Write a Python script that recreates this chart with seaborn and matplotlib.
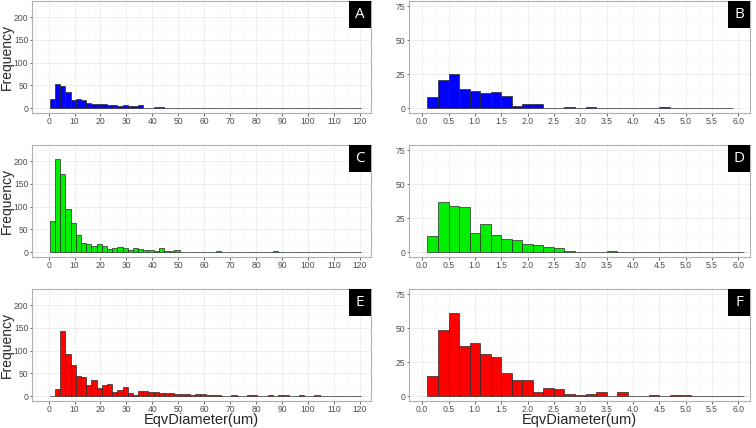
import numpy as np
import pandas as pd
import matplotlib.pyplot as plt
import seaborn as sns
from matplotlib.patches import Rectangle
from matplotlib.ticker import MultipleLocator

# counts per bin
# left column: bins of width 2 um, starting at 0.5
counts_a = [19, 54, 48, 35, 17, 20, 18, 10, 9, 9, 8, 6, 7, 5, 6, 5, 4, 6, 1, 0,
            3, 3, 0, 1, 0, 1, 0, 1, 0, 0, 0, 0, 0, 0, 0, 1, 0, 0, 0, 0,
            0, 0, 0, 0, 0, 0, 0, 0, 0, 0, 0, 0, 0, 0, 0, 0, 0, 0, 0, 0]
counts_c = [68, 206, 171, 94, 65, 37, 19, 17, 14, 17, 14, 6, 8, 10, 9, 4, 9, 6, 4, 4,
            2, 8, 3, 3, 4, 1, 1, 0, 1, 0, 1, 1, 2, 1, 1, 0, 1, 0, 0, 0,
            1, 1, 0, 2, 0, 1, 0, 0, 1, 1, 0, 1, 1, 0, 0, 0, 0, 0, 0, 0]
counts_e = [0, 16, 143, 92, 69, 44, 41, 24, 35, 17, 25, 26, 8, 14, 19, 7, 2, 11, 12, 8,
            8, 7, 7, 6, 4, 4, 4, 2, 5, 5, 2, 3, 3, 1, 1, 2, 1, 1, 3, 3,
            1, 1, 2, 1, 2, 2, 1, 1, 2, 1, 1, 2, 1, 1, 1, 0, 0, 0, 0, 0]
# right column: bins of width 0.2 um, starting at 0.1
counts_b = [8, 21, 25, 14, 13, 11, 12, 9, 2, 3, 3, 0, 0, 1, 0, 1, 0, 0, 0, 0,
            0, 0, 1, 0, 0, 0, 0, 0, 0]
counts_d = [12, 37, 34, 33, 14, 21, 13, 10, 9, 6, 5, 4, 3, 1, 0, 0, 0, 1, 0, 0,
            0, 0, 0, 0, 0, 0, 0, 0, 0, 0]
counts_f = [15, 49, 61, 37, 39, 31, 29, 17, 12, 12, 3, 6, 5, 2, 1, 2, 3, 0, 3, 0,
            0, 1, 0, 1, 1, 0, 0, 0, 0, 0]

panel_labels = ['A', 'B', 'C', 'D', 'E', 'F']
colors = ['#0000FF', '#0000FF', '#00EE00', '#00EE00', '#FF0000', '#FF0000']

sns.set_theme(style='white')
plt.rcParams['font.family'] = ['Liberation Sans', 'DejaVu Sans']

fig = plt.figure(figsize=(7.56, 4.28), dpi=100)

W, H = 756, 428
cols = [(32, 371), (409, 750)]
rows = [(1, 113), (145, 257), (289, 401)]

panels = [
    (counts_a, 2.0, 0.5), (counts_b, 0.2, 0.1),
    (counts_c, 2.0, 0.5), (counts_d, 0.2, 0.1),
    (counts_e, 2.0, 0.5), (counts_f, 0.2, 0.1),
]

for i, (counts, width, start) in enumerate(panels):
    r, c = divmod(i, 2)
    x0, x1 = cols[c]
    y0, y1 = rows[r]
    ax = fig.add_axes([x0 / W, 1 - y1 / H, (x1 - x0) / W, (y1 - y0) / H])

    n = len(counts)
    edges = start + width * np.arange(n + 1)
    df = pd.DataFrame({'d': edges[:-1] + width / 2, 'n': counts})
    sns.histplot(data=df, x='d', weights='n', bins=list(edges), ax=ax,
                 color=colors[i], alpha=1, edgecolor='#2b2b2b', linewidth=0.5)

    if c == 0:
        ax.set_xlim(-6.4, 124.3)
        ax.set_ylim(-11, 236)
        ax.xaxis.set_major_locator(MultipleLocator(10))
        ax.xaxis.set_minor_locator(MultipleLocator(5))
        ax.yaxis.set_minor_locator(MultipleLocator(25))
        ax.set_yticks([0, 50, 100, 150, 200])
        ax.set_ylabel('Frequency', fontsize=10)
        ax.yaxis.set_label_coords(-0.053, 0.5)
    else:
        ax.set_xlim(-0.25, 6.22)
        ax.set_ylim(-3.5, 78.9)
        ax.xaxis.set_major_locator(MultipleLocator(0.5))
        ax.xaxis.set_minor_locator(MultipleLocator(0.25))
        ax.yaxis.set_minor_locator(MultipleLocator(12.5))
        ax.set_yticks([0, 25, 50, 75])
        ax.xaxis.set_major_formatter(plt.FuncFormatter(lambda v, p: f'{v:.1f}'))
        ax.set_ylabel('')

    if r == 2:
        ax.set_xlabel('EqvDiameter(um)', fontsize=10.5)
        ax.xaxis.set_label_coords(0.5, -0.107)
    else:
        ax.set_xlabel('')

    ax.set_axisbelow(True)
    ax.grid(which='major', color='#ebebeb', linewidth=0.6)
    ax.grid(which='minor', color='#f6f6f6', linewidth=0.4)
    ax.tick_params(axis='both', which='major', labelsize=6.2, colors='#4d4d4d',
                   length=1.8, width=0.6, pad=0.8, bottom=True, left=True)
    ax.tick_params(which='minor', length=0)
    for s in ax.spines.values():
        s.set_color('#b0b0b0')
        s.set_linewidth(0.8)

    # panel tag in the top right corner
    bw, bh = 22 / (x1 - x0), 27 / (y1 - y0)
    ax.add_patch(Rectangle((1 - bw, 1 - bh), bw, bh, transform=ax.transAxes,
                           facecolor='black', edgecolor='none', zorder=5, clip_on=False))
    ax.text(1 - bw / 2, 1 - bh / 2, panel_labels[i], transform=ax.transAxes,
            color='white', fontsize=11, ha='center', va='center', zorder=6,
            family=['Open Sans', 'DejaVu Sans'])

fig.savefig('out.png', dpi=100)
